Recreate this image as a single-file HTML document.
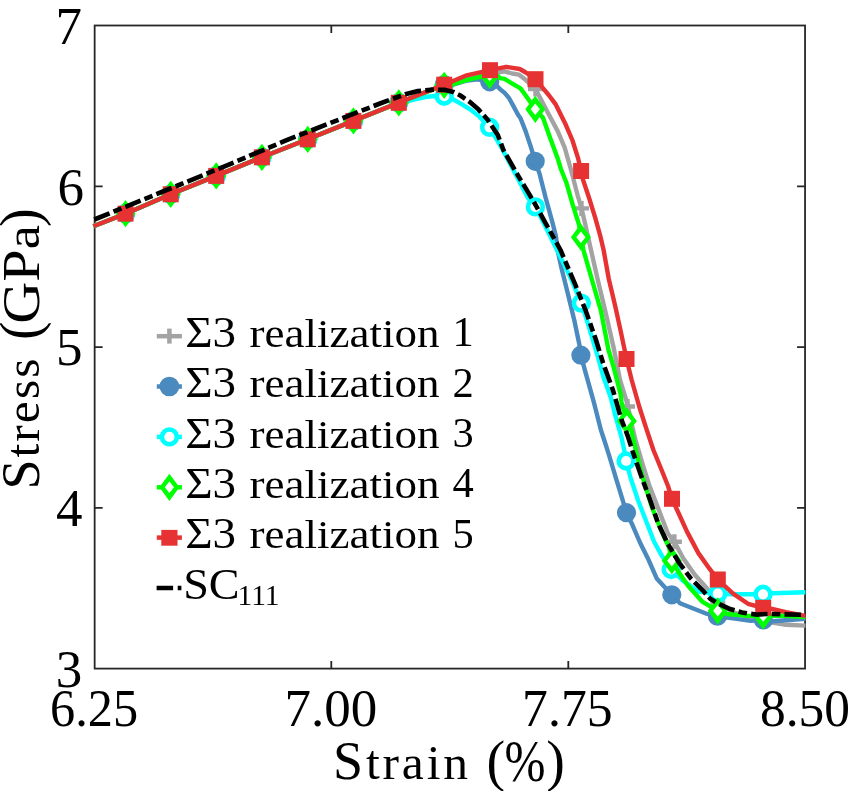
<!DOCTYPE html>
<html><head><meta charset="utf-8">
<style>
html,body{margin:0;padding:0;background:#fff;}
body{width:848px;height:791px;overflow:hidden;}
svg{display:block;}
text{font-family:"Liberation Serif",serif;fill:#000;filter:grayscale(1);}
</style></head>
<body>
<svg width="848" height="791" viewBox="0 0 848 791">
<rect x="0" y="0" width="848" height="791" fill="#fff"/>
<!-- AXES -->
<g stroke="#262626" stroke-width="1.8" fill="none">
<rect x="94.65" y="25.5" width="710.4" height="643.1"/>
<path d="M94.65 186.4h8M94.65 347.1h8M94.65 507.8h8M805.05 186.4h-8M805.05 347.1h-8M805.05 507.8h-8M331.3 668.6v-7.6M568.3 668.6v-7.6M331.3 25.5v7.6M568.3 25.5v7.6"/>
</g>
<!-- CURVES -->
<g id="curves" fill="none" stroke-linejoin="round" stroke-linecap="butt">
<path d="M93.4 226.2 L125.5 213.7 L170.7 194.3 L216.2 175.9 L261.9 157.3 L307.7 139.3 L353.4 120.9 L398.8 102.8 L444.2 84.7 L465.5 77.0 L490.0 72.0 L497.8 72.7 L504.6 71.3 L512.0 73.5 L519.0 74.7 L525.0 79.3 L535.5 89.0 L548.7 114.3 L557.8 131.4 L564.6 147.3 L570.5 168.0 L577.7 195.5 L581.5 208.4 L585.3 224.6 L591.0 250.0 L597.8 280.0 L606.2 315.0 L613.5 347.0 L620.0 380.0 L625.5 397.7 L628.0 406.5 L632.1 426.0 L635.5 440.0 L642.0 462.0 L648.9 484.2 L655.0 500.0 L661.5 517.0 L667.9 533.5 L674.4 541.7 L683.2 558.2 L694.6 574.6 L706.0 587.2 L717.8 602.6 L733.0 612.0 L750.0 618.0 L763.2 621.0 L772.2 622.5 L786.0 624.8 L805.5 625.6" stroke="#a3a3a3" stroke-width="4.4" fill="none"/>
<path d="M118.0 213.7h15M125.5 206.2v15" stroke="#a3a3a3" stroke-width="4.4" fill="none"/>
<path d="M163.2 194.3h15M170.7 186.8v15" stroke="#a3a3a3" stroke-width="4.4" fill="none"/>
<path d="M208.7 175.9h15M216.2 168.4v15" stroke="#a3a3a3" stroke-width="4.4" fill="none"/>
<path d="M254.4 157.3h15M261.9 149.8v15" stroke="#a3a3a3" stroke-width="4.4" fill="none"/>
<path d="M300.2 139.3h15M307.7 131.8v15" stroke="#a3a3a3" stroke-width="4.4" fill="none"/>
<path d="M345.9 120.9h15M353.4 113.4v15" stroke="#a3a3a3" stroke-width="4.4" fill="none"/>
<path d="M391.3 102.8h15M398.8 95.3v15" stroke="#a3a3a3" stroke-width="4.4" fill="none"/>
<path d="M436.7 84.7h15M444.2 77.2v15" stroke="#a3a3a3" stroke-width="4.4" fill="none"/>
<path d="M482.5 72.0h15M490.0 64.5v15" stroke="#a3a3a3" stroke-width="4.4" fill="none"/>
<path d="M528.0 89.0h15M535.5 81.5v15" stroke="#a3a3a3" stroke-width="4.4" fill="none"/>
<path d="M574.0 208.4h15M581.5 200.9v15" stroke="#a3a3a3" stroke-width="4.4" fill="none"/>
<path d="M620.0 406.5h15M627.5 399.0v15" stroke="#a3a3a3" stroke-width="4.4" fill="none"/>
<path d="M666.9 541.7h15M674.4 534.2v15" stroke="#a3a3a3" stroke-width="4.4" fill="none"/>
<path d="M710.3 602.6h15M717.8 595.1v15" stroke="#a3a3a3" stroke-width="4.4" fill="none"/>
<path d="M755.7 621.0h15M763.2 613.5v15" stroke="#a3a3a3" stroke-width="4.4" fill="none"/>
<path d="M93.4 226.2 L125.5 213.7 L170.7 194.3 L216.2 175.9 L261.9 157.3 L307.7 139.3 L353.4 120.9 L398.8 102.8 L444.2 84.7 L452.3 84.8 L465.5 80.8 L477.6 79.3 L489.7 81.8 L497.7 86.7 L500.0 89.1 L504.6 92.9 L509.1 98.2 L513.7 106.6 L518.2 115.0 L520.5 118.3 L525.5 130.9 L530.6 146.1 L535.2 161.3 L539.5 173.5 L545.7 198.0 L552.0 220.8 L555.9 236.0 L557.5 250.0 L561.7 269.0 L568.0 294.2 L574.4 320.8 L579.4 344.8 L580.9 355.2 L585.3 371.6 L594.1 403.2 L600.9 430.0 L604.2 440.0 L609.1 455.3 L616.7 480.6 L626.5 512.7 L632.6 525.3 L640.2 543.0 L647.8 558.2 L656.7 578.4 L671.8 594.8 L680.0 603.2 L692.6 608.3 L705.3 613.3 L717.4 616.2 L733.1 618.4 L750.8 620.9 L763.4 620.0 L773.0 621.2 L805.5 618.7" stroke="#4a8abe" stroke-width="4.4" fill="none"/>
<circle cx="125.5" cy="213.7" r="7.6" fill="#4a8abe" stroke="#4a8abe" stroke-width="4"/>
<circle cx="170.7" cy="194.3" r="7.6" fill="#4a8abe" stroke="#4a8abe" stroke-width="4"/>
<circle cx="216.2" cy="175.9" r="7.6" fill="#4a8abe" stroke="#4a8abe" stroke-width="4"/>
<circle cx="261.9" cy="157.3" r="7.6" fill="#4a8abe" stroke="#4a8abe" stroke-width="4"/>
<circle cx="307.7" cy="139.3" r="7.6" fill="#4a8abe" stroke="#4a8abe" stroke-width="4"/>
<circle cx="353.4" cy="120.9" r="7.6" fill="#4a8abe" stroke="#4a8abe" stroke-width="4"/>
<circle cx="398.8" cy="102.8" r="7.6" fill="#4a8abe" stroke="#4a8abe" stroke-width="4"/>
<circle cx="444.2" cy="84.7" r="7.6" fill="#4a8abe" stroke="#4a8abe" stroke-width="4"/>
<circle cx="489.7" cy="81.8" r="7.6" fill="#4a8abe" stroke="#4a8abe" stroke-width="4"/>
<circle cx="535.2" cy="161.3" r="7.6" fill="#4a8abe" stroke="#4a8abe" stroke-width="4"/>
<circle cx="580.9" cy="355.2" r="7.6" fill="#4a8abe" stroke="#4a8abe" stroke-width="4"/>
<circle cx="626.5" cy="512.7" r="7.6" fill="#4a8abe" stroke="#4a8abe" stroke-width="4"/>
<circle cx="671.8" cy="594.8" r="7.6" fill="#4a8abe" stroke="#4a8abe" stroke-width="4"/>
<circle cx="717.4" cy="616.2" r="7.6" fill="#4a8abe" stroke="#4a8abe" stroke-width="4"/>
<circle cx="763.4" cy="620.0" r="7.6" fill="#4a8abe" stroke="#4a8abe" stroke-width="4"/>
<path d="M93.4 226.2 L125.5 213.7 L170.7 194.3 L216.2 175.9 L261.9 157.3 L307.7 139.3 L353.4 120.9 L398.8 102.8 L407.8 101.2 L425.0 97.0 L435.1 96.0 L444.2 96.2 L453.3 99.5 L462.4 104.6 L470.5 109.6 L478.6 115.9 L489.6 127.3 L502.8 150.0 L514.1 171.5 L528.0 198.0 L535.4 206.9 L540.7 217.0 L557.0 250.0 L570.6 277.8 L581.3 303.1 L587.0 320.8 L590.0 330.6 L597.6 355.9 L603.9 378.6 L610.6 396.9 L615.3 415.4 L621.5 437.5 L624.2 450.0 L626.1 461.0 L630.6 478.0 L638.2 500.8 L645.3 519.0 L654.1 541.7 L661.7 555.6 L671.2 569.5 L683.2 580.9 L698.4 591.5 L717.8 593.7 L733.1 594.2 L750.8 594.2 L763.0 594.3 L773.0 593.3 L805.5 592.3" stroke="#00ffff" stroke-width="4.4" fill="none"/>
<circle cx="125.5" cy="213.7" r="7.4" fill="#fff" stroke="#00ffff" stroke-width="4.6"/>
<circle cx="170.7" cy="194.3" r="7.4" fill="#fff" stroke="#00ffff" stroke-width="4.6"/>
<circle cx="216.2" cy="175.9" r="7.4" fill="#fff" stroke="#00ffff" stroke-width="4.6"/>
<circle cx="261.9" cy="157.3" r="7.4" fill="#fff" stroke="#00ffff" stroke-width="4.6"/>
<circle cx="307.7" cy="139.3" r="7.4" fill="#fff" stroke="#00ffff" stroke-width="4.6"/>
<circle cx="353.4" cy="120.9" r="7.4" fill="#fff" stroke="#00ffff" stroke-width="4.6"/>
<circle cx="398.8" cy="102.8" r="7.4" fill="#fff" stroke="#00ffff" stroke-width="4.6"/>
<circle cx="444.2" cy="96.2" r="7.4" fill="#fff" stroke="#00ffff" stroke-width="4.6"/>
<circle cx="489.6" cy="127.3" r="7.4" fill="#fff" stroke="#00ffff" stroke-width="4.6"/>
<circle cx="535.4" cy="206.9" r="7.4" fill="#fff" stroke="#00ffff" stroke-width="4.6"/>
<circle cx="581.3" cy="303.1" r="7.4" fill="#fff" stroke="#00ffff" stroke-width="4.6"/>
<circle cx="626.1" cy="461.0" r="7.4" fill="#fff" stroke="#00ffff" stroke-width="4.6"/>
<circle cx="671.2" cy="569.5" r="7.4" fill="#fff" stroke="#00ffff" stroke-width="4.6"/>
<circle cx="717.8" cy="593.7" r="7.4" fill="#fff" stroke="#00ffff" stroke-width="4.6"/>
<circle cx="763.0" cy="594.3" r="7.4" fill="#fff" stroke="#00ffff" stroke-width="4.6"/>
<path d="M93.4 226.2 L125.5 213.7 L170.7 194.3 L216.2 175.9 L261.9 157.3 L307.7 139.3 L353.4 120.9 L398.8 102.8 L444.2 85.3 L452.3 84.3 L465.5 80.3 L477.6 77.3 L489.7 75.5 L497.7 75.9 L500.0 78.1 L504.6 78.9 L511.4 83.1 L520.5 88.4 L525.0 94.5 L530.3 102.0 L535.3 109.3 L543.0 117.8 L549.8 137.1 L557.8 158.7 L560.9 169.0 L566.5 183.0 L572.6 204.4 L579.0 224.6 L580.9 237.2 L583.4 250.0 L592.1 280.3 L600.9 310.7 L608.5 350.0 L613.1 365.3 L620.7 394.4 L621.5 402.1 L626.8 421.0 L631.2 429.6 L635.7 450.0 L642.0 475.0 L651.6 506.3 L661.7 531.6 L669.3 548.0 L671.8 560.7 L679.4 573.3 L688.3 586.0 L695.0 593.5 L702.6 601.9 L717.8 610.8 L726.9 614.0 L748.3 615.9 L763.2 616.0 L779.9 615.5 L805.5 617.1" stroke="#00ff00" stroke-width="4.4" fill="none"/>
<path d="M125.50 200.10L135.50 213.70L125.50 227.30L115.50 213.70Z" fill="#00ff00"/><path d="M125.50 207.90L130.10 213.70L125.50 219.50L120.90 213.70Z" fill="#fff"/>
<path d="M170.70 180.70L180.70 194.30L170.70 207.90L160.70 194.30Z" fill="#00ff00"/><path d="M170.70 188.50L175.30 194.30L170.70 200.10L166.10 194.30Z" fill="#fff"/>
<path d="M216.20 162.30L226.20 175.90L216.20 189.50L206.20 175.90Z" fill="#00ff00"/><path d="M216.20 170.10L220.80 175.90L216.20 181.70L211.60 175.90Z" fill="#fff"/>
<path d="M261.90 143.70L271.90 157.30L261.90 170.90L251.90 157.30Z" fill="#00ff00"/><path d="M261.90 151.50L266.50 157.30L261.90 163.10L257.30 157.30Z" fill="#fff"/>
<path d="M307.70 125.70L317.70 139.30L307.70 152.90L297.70 139.30Z" fill="#00ff00"/><path d="M307.70 133.50L312.30 139.30L307.70 145.10L303.10 139.30Z" fill="#fff"/>
<path d="M353.40 107.30L363.40 120.90L353.40 134.50L343.40 120.90Z" fill="#00ff00"/><path d="M353.40 115.10L358.00 120.90L353.40 126.70L348.80 120.90Z" fill="#fff"/>
<path d="M398.80 89.20L408.80 102.80L398.80 116.40L388.80 102.80Z" fill="#00ff00"/><path d="M398.80 97.00L403.40 102.80L398.80 108.60L394.20 102.80Z" fill="#fff"/>
<path d="M444.20 71.70L454.20 85.30L444.20 98.90L434.20 85.30Z" fill="#00ff00"/><path d="M444.20 79.50L448.80 85.30L444.20 91.10L439.60 85.30Z" fill="#fff"/>
<path d="M489.70 61.90L499.70 75.50L489.70 89.10L479.70 75.50Z" fill="#00ff00"/><path d="M489.70 69.70L494.30 75.50L489.70 81.30L485.10 75.50Z" fill="#fff"/>
<path d="M535.30 95.70L545.30 109.30L535.30 122.90L525.30 109.30Z" fill="#00ff00"/><path d="M535.30 103.50L539.90 109.30L535.30 115.10L530.70 109.30Z" fill="#fff"/>
<path d="M580.90 223.60L590.90 237.20L580.90 250.80L570.90 237.20Z" fill="#00ff00"/><path d="M580.90 231.40L585.50 237.20L580.90 243.00L576.30 237.20Z" fill="#fff"/>
<path d="M626.80 407.40L636.80 421.00L626.80 434.60L616.80 421.00Z" fill="#00ff00"/><path d="M626.80 415.20L631.40 421.00L626.80 426.80L622.20 421.00Z" fill="#fff"/>
<path d="M671.80 547.10L681.80 560.70L671.80 574.30L661.80 560.70Z" fill="#00ff00"/><path d="M671.80 554.90L676.40 560.70L671.80 566.50L667.20 560.70Z" fill="#fff"/>
<path d="M717.80 597.20L727.80 610.80L717.80 624.40L707.80 610.80Z" fill="#00ff00"/><path d="M717.80 605.00L722.40 610.80L717.80 616.60L713.20 610.80Z" fill="#fff"/>
<path d="M763.20 602.40L773.20 616.00L763.20 629.60L753.20 616.00Z" fill="#00ff00"/><path d="M763.20 610.20L767.80 616.00L763.20 621.80L758.60 616.00Z" fill="#fff"/>
<path d="M93.4 226.2 L125.5 213.7 L170.7 194.3 L216.2 175.9 L261.9 157.3 L307.7 139.3 L353.4 120.9 L398.8 102.8 L444.2 84.7 L465.5 75.7 L490.0 70.2 L506.1 66.8 L519.7 69.0 L525.8 72.5 L535.5 79.2 L542.5 87.6 L548.7 95.0 L555.5 104.1 L565.7 124.6 L572.5 140.5 L578.2 158.7 L581.1 171.0 L582.8 179.1 L589.1 198.0 L595.4 218.3 L600.3 236.0 L603.6 250.0 L608.8 279.0 L615.3 306.5 L620.6 330.6 L626.5 359.0 L631.7 380.0 L639.2 406.5 L646.3 428.7 L653.4 450.0 L661.0 468.5 L668.0 486.0 L672.0 498.8 L676.9 509.5 L687.0 531.6 L698.4 553.1 L709.5 568.7 L717.8 579.5 L733.1 593.6 L748.0 603.8 L763.2 607.8 L772.2 609.0 L786.0 612.2 L805.5 615.8" stroke="#e73233" stroke-width="4.4" fill="none"/>
<rect x="117.50" y="205.70" width="16" height="16" fill="#e73233"/>
<rect x="162.70" y="186.30" width="16" height="16" fill="#e73233"/>
<rect x="208.20" y="167.90" width="16" height="16" fill="#e73233"/>
<rect x="253.90" y="149.30" width="16" height="16" fill="#e73233"/>
<rect x="299.70" y="131.30" width="16" height="16" fill="#e73233"/>
<rect x="345.40" y="112.90" width="16" height="16" fill="#e73233"/>
<rect x="390.80" y="94.80" width="16" height="16" fill="#e73233"/>
<rect x="436.20" y="76.70" width="16" height="16" fill="#e73233"/>
<rect x="482.00" y="62.20" width="16" height="16" fill="#e73233"/>
<rect x="527.50" y="71.20" width="16" height="16" fill="#e73233"/>
<rect x="573.10" y="163.00" width="16" height="16" fill="#e73233"/>
<rect x="618.50" y="351.00" width="16" height="16" fill="#e73233"/>
<rect x="664.00" y="490.80" width="16" height="16" fill="#e73233"/>
<rect x="709.80" y="571.50" width="16" height="16" fill="#e73233"/>
<rect x="755.20" y="599.80" width="16" height="16" fill="#e73233"/>
<path d="M94.3 219.5 L179.0 185.0 L225.2 166.1 L286.6 140.2 L348.9 115.7 L380.0 103.5 L405.3 94.2 L417.9 91.1 L434.0 89.6 L445.2 89.9 L453.3 91.9 L460.4 95.5 L470.5 102.5 L478.6 109.6 L487.7 119.7 L497.8 135.0 L503.4 150.0 L517.9 175.3 L533.1 200.6 L545.7 223.3 L560.5 250.0 L575.6 285.4 L585.7 310.7 L596.0 340.0 L603.0 362.8 L613.1 390.6 L621.5 419.8 L627.7 435.8 L633.1 452.8 L641.9 478.0 L650.5 501.0 L657.9 522.8 L668.0 544.2 L679.4 563.2 L690.8 578.4 L702.2 589.8 L710.2 598.8 L717.8 603.4 L729.1 608.7 L742.0 612.5 L755.9 614.6 L768.5 614.0 L805.5 614.8" stroke="#000" stroke-width="4.6" fill="none" stroke-dasharray="16.5 4.2 8.6 4.2"/>
</g>
<!-- /CURVES -->

<g font-size="53">
<text x="82" y="43.6" text-anchor="end">7</text>
<text x="84" y="204.5" text-anchor="end">6</text>
<text x="82.5" y="365" text-anchor="end">5</text>
<text x="82.5" y="525.6" text-anchor="end">4</text>
<text x="82.3" y="687" text-anchor="end">3</text>
<text x="50.1" y="726" textLength="88" lengthAdjust="spacingAndGlyphs">6.25</text>
<text x="330.9" y="726" text-anchor="middle">7.00</text>
<text x="522.1" y="726" textLength="90.5" lengthAdjust="spacingAndGlyphs">7.75</text>
<text x="760" y="726" textLength="90" lengthAdjust="spacingAndGlyphs">8.50</text>
</g>
<g font-size="53"><text x="333" y="778.9" textLength="135" lengthAdjust="spacing"><tspan font-size="54">S</tspan><tspan font-size="49.5">train</tspan></text><text x="486.5" y="779.5" font-size="56">(</text><text x="504.5" y="780.5" font-size="59" textLength="41" lengthAdjust="spacingAndGlyphs">%</text><text x="546.3" y="779.5" font-size="56">)</text></g>
<g font-size="53" transform="translate(38.5,489.6) rotate(-90)"><text x="0" y="0" textLength="131.1" lengthAdjust="spacing"><tspan font-size="54">S</tspan><tspan font-size="49.5">tress</tspan></text><text x="149.6" y="0" font-size="56">(</text><text x="165.8" y="0" textLength="98.7" lengthAdjust="spacingAndGlyphs">GP<tspan font-size="49.5">a</tspan></text><text x="262.5" y="0" font-size="56">)</text></g>
<!-- LEGEND -->
<g id="legend">
<g stroke-width="4.5">
<path d="M156.8 336.2H181.9" stroke="#a3a3a3"/>
<path d="M169.4 328.6V343.6" stroke="#a3a3a3"/>
<path d="M156.8 386.5H181.9" stroke="#4a8abe"/>
<circle cx="169.4" cy="386.5" r="7.6" fill="#4a8abe" stroke="#4a8abe"/>
<path d="M156.8 436.9H181.9" stroke="#00ffff"/>
<circle cx="169.4" cy="436.9" r="7.4" fill="#fff" stroke="#00ffff" stroke-width="4.6"/>
<path d="M156.8 487.3H181.9" stroke="#00ff00"/>
<path d="M169.4 473.7L179.4 487.3L169.4 500.9L159.4 487.3Z" fill="#00ff00" stroke="none"/><path d="M169.4 481.5L174 487.3L169.4 493.1L164.8 487.3Z" fill="#fff" stroke="none"/>
<path d="M156.8 537.6H181.9" stroke="#e73233"/>
<rect x="161.3" y="529.9" width="16.2" height="15.8" fill="#e73233" stroke="none"/>
<path d="M156.6 588.1H173.1M177.7 588.1H181.4" stroke="#000" stroke-width="4.5"/>
</g>
<g font-size="42.5">
<text x="185.2" y="346.7" font-size="44" textLength="51" lengthAdjust="spacingAndGlyphs">Σ3</text><text x="249.6" y="346.8" font-size="40.5" textLength="190" lengthAdjust="spacingAndGlyphs">realization</text><text x="452.5" y="346.2">1</text>
<text x="185.2" y="397.1" font-size="44" textLength="51" lengthAdjust="spacingAndGlyphs">Σ3</text><text x="249.6" y="397.2" font-size="40.5" textLength="190" lengthAdjust="spacingAndGlyphs">realization</text><text x="452.5" y="396.6">2</text>
<text x="185.2" y="447.5" font-size="44" textLength="51" lengthAdjust="spacingAndGlyphs">Σ3</text><text x="249.6" y="447.6" font-size="40.5" textLength="190" lengthAdjust="spacingAndGlyphs">realization</text><text x="452.5" y="447.0">3</text>
<text x="185.2" y="497.9" font-size="44" textLength="51" lengthAdjust="spacingAndGlyphs">Σ3</text><text x="249.6" y="498.0" font-size="40.5" textLength="190" lengthAdjust="spacingAndGlyphs">realization</text><text x="452.5" y="497.4">4</text>
<text x="185.2" y="548.3" font-size="44" textLength="51" lengthAdjust="spacingAndGlyphs">Σ3</text><text x="249.6" y="548.4" font-size="40.5" textLength="190" lengthAdjust="spacingAndGlyphs">realization</text><text x="452.5" y="547.8">5</text>
<text x="183.2" y="598.9" font-size="45" textLength="56.5" lengthAdjust="spacingAndGlyphs">SC</text><text x="237.5" y="604.6" font-size="29" textLength="42" lengthAdjust="spacingAndGlyphs">111</text>
</g>
</g>
</svg>
</body></html>
